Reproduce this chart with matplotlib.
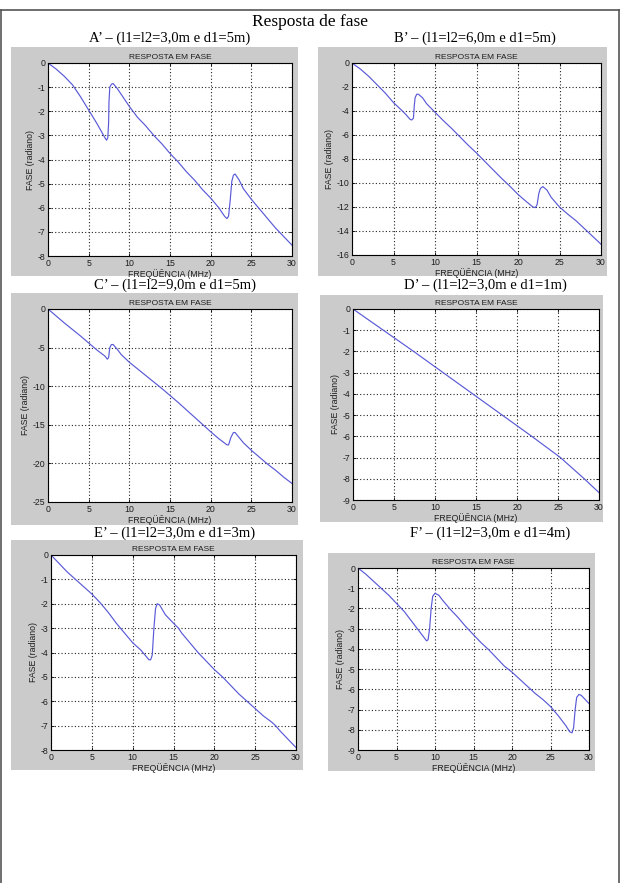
import matplotlib
matplotlib.use('Agg')
import matplotlib.pyplot as plt
from matplotlib.patches import Rectangle
from matplotlib.lines import Line2D

plt.rcParams['axes.unicode_minus'] = False

# Phase response curves (MHz, radians)
freq_a = [0, 1, 2, 3, 4, 5, 6, 6.5, 7, 7.2, 7.35, 7.45, 7.5, 7.6, 7.8, 8.0, 8.5, 9, 10, 11, 12, 13, 14,
          15, 16, 17, 18, 19, 20, 21, 21.7, 22, 22.2, 22.4, 22.6, 22.8, 23, 23.5, 24, 25, 26, 27, 28, 29, 30]
fase_a = [0, -0.25, -0.55, -0.9, -1.4, -1.95, -2.5, -2.8, -3.1, -3.2, -3.1, -2.5, -1.6, -1.0, -0.88, -0.85,
          -1.05, -1.3, -1.8, -2.25, -2.6, -3.0, -3.35, -3.75, -4.1, -4.5, -4.85, -5.25, -5.6, -6.0, -6.35,
          -6.45, -6.35, -5.7, -4.9, -4.65, -4.6, -4.85, -5.2, -5.65, -6.05, -6.45, -6.85, -7.2, -7.55]

freq_b = [0, 1, 2, 3, 4, 5, 6, 6.5, 7, 7.2, 7.4, 7.5, 7.6, 7.8, 8.0, 8.5, 9, 10, 11, 12, 13, 14, 15, 16,
          17, 18, 19, 20, 21, 21.8, 22.1, 22.3, 22.5, 22.7, 23, 23.5, 24, 25, 26, 27, 28, 29, 30]
fase_b = [0, -0.5, -1.1, -1.8, -2.5, -3.3, -3.95, -4.3, -4.7, -4.75, -4.6, -3.6, -2.9, -2.6, -2.6, -2.9,
          -3.4, -4.1, -4.8, -5.45, -6.15, -6.85, -7.5, -8.2, -8.9, -9.6, -10.25, -10.95, -11.55, -12.0,
          -12.05, -11.8, -10.9, -10.45, -10.3, -10.6, -11.2, -12.0, -12.6, -13.15, -13.8, -14.45, -15.1]

freq_c = [0, 2, 4, 5, 6, 7, 7.3, 7.45, 7.6, 7.8, 8.0, 8.5, 9, 10, 12, 14, 15, 16, 18, 20, 21, 22, 22.2,
          22.5, 22.8, 23, 24, 25, 26, 27, 28, 29, 30]
fase_c = [0, -1.8, -3.5, -4.4, -5.3, -6.1, -6.5, -6.3, -5.0, -4.6, -4.6, -5.2, -5.9, -6.9, -8.6, -10.3,
          -11.2, -12.1, -14.0, -15.9, -16.8, -17.6, -17.6, -16.6, -16.0, -16.0, -17.3, -18.3, -19.2, -20.1,
          -20.9, -21.8, -22.6]

freq_d = [0, 3.7, 7.4, 11, 14.6, 18.2, 21.8, 25.3, 28.2, 30]
fase_d = [0, -1, -2, -3, -4, -5, -6, -7, -8, -8.65]

freq_e = [0, 1, 2, 3, 4, 5, 6, 7, 8, 9, 10, 11, 11.5, 12, 12.2, 12.4, 12.6, 12.8, 13, 13.3, 14, 15, 15.6,
          16, 17, 18, 19, 20, 21, 22, 23, 24, 25, 26, 27, 27.5, 28, 29, 30]
fase_e = [0, -0.35, -0.7, -1.0, -1.3, -1.6, -1.95, -2.35, -2.8, -3.2, -3.6, -3.9, -4.1, -4.3, -4.3, -4.1,
          -3.0, -2.2, -2.0, -2.05, -2.45, -2.8, -3.0, -3.2, -3.6, -4.0, -4.35, -4.7, -5.0, -5.35, -5.7,
          -6.0, -6.3, -6.6, -6.85, -7.0, -7.2, -7.55, -7.9]

freq_f = [0, 1, 2, 3, 4, 5, 6, 7, 8, 8.5, 8.9, 9.1, 9.3, 9.5, 9.7, 10.0, 10.5, 11, 12, 13, 14, 15, 16,
          17, 18, 19, 20, 21, 22, 23, 24, 25, 26, 27, 27.5, 27.8, 28.0, 28.2, 28.4, 28.7, 29, 29.5, 30]
fase_f = [0, -0.3, -0.65, -1.0, -1.35, -1.75, -2.15, -2.65, -3.15, -3.4, -3.6, -3.55, -3.0, -2.0, -1.4,
          -1.25, -1.35, -1.6, -2.05, -2.45, -2.9, -3.3, -3.7, -4.05, -4.45, -4.85, -5.15, -5.5, -5.85,
          -6.2, -6.5, -6.85, -7.3, -7.8, -8.1, -8.15, -7.9, -7.0, -6.4, -6.25, -6.3, -6.5, -6.7]

subtitles = ["A’ – (l1=l2=3,0m e d1=5m)", "B’ – (l1=l2=6,0m e d1=5m)",
             "C’ – (l1=l2=9,0m e d1=5m)", "D’ – (l1=l2=3,0m e d1=1m)",
             "E’ – (l1=l2=3,0m e d1=3m)", "F’ – (l1=l2=3,0m e d1=4m)"]
ymins = [-8, -16, -25, -9, -8, -9]
ysteps = [1, 2, 5, 1, 1, 1]
xticks = [0, 5, 10, 15, 20, 25, 30]

W, H = 621, 883
fig = plt.figure(figsize=(W / 100, H / 100), dpi=100)

def frac(x1, y1, x2, y2):
    return [x1 / W, 1 - y2 / H, (x2 - x1) / W, (y2 - y1) / H]

# pixel layout: gray panel, axes box, subtitle position
layout = [
    dict(panel=(11, 47, 298, 276), axes=(48, 63, 292, 256), sub=(170, 38)),
    dict(panel=(318, 47, 607, 276), axes=(352, 63, 601, 255), sub=(475, 38)),
    dict(panel=(11, 293, 298, 525), axes=(48, 309, 292, 502), sub=(175, 285)),
    dict(panel=(320, 295, 603, 522), axes=(353, 309, 599, 500), sub=(485, 285)),
    dict(panel=(11, 540, 303, 770), axes=(51, 555, 296, 750), sub=(175, 533)),
    dict(panel=(328, 553, 595, 771), axes=(358, 568, 589, 750), sub=(490, 533)),
]
curves = [(freq_a, fase_a), (freq_b, fase_b), (freq_c, fase_c),
          (freq_d, fase_d), (freq_e, fase_e), (freq_f, fase_f)]

sans = 'Liberation Sans'
serif = 'Liberation Serif'
txt = '#1e1e1e'

# page frame (top, left, right)
for seg in [((1, 619), (10, 10)), ((1, 1), (10, 883)), ((619, 619), (10, 883))]:
    fig.add_artist(Line2D([s / W for s in seg[0]], [1 - s / H for s in seg[1]],
                          color='#555555', lw=1.2, transform=fig.transFigure))

fig.text(310 / W, 1 - 22 / H, 'Resposta de fase', ha='center', va='center',
         fontsize=12.5, family=serif)

for i, lay in enumerate(layout):
    px1, py1, px2, py2 = lay['panel']
    x0, y0, w, h = frac(px1, py1, px2, py2)
    fig.add_artist(Rectangle((x0, y0), w, h, transform=fig.transFigure,
                             facecolor='#cbcbcb', edgecolor='none', zorder=0))
    fig.text(lay['sub'][0] / W, 1 - lay['sub'][1] / H, subtitles[i], ha='center', va='center',
             fontsize=10.5, family=serif)

    ax = fig.add_axes(frac(*lay['axes']))
    ax.set_facecolor('white')
    xs, ys = curves[i]
    ax.plot(xs, ys, color='#5a5ad8', lw=0.85)
    ax.set_xlim(0, 30)
    ax.set_ylim(ymins[i], 0)
    ax.set_xticks(xticks)
    ax.set_yticks(list(range(ymins[i], 1, ysteps[i])))
    ax.grid(True, color='#222222', linestyle=(0, (1, 2)), lw=0.8)
    ax.tick_params(direction='in', length=2, width=0.6, top=True, right=True,
                   labelsize=6.3, labelcolor=txt, pad=2)
    for lab in ax.get_xticklabels() + ax.get_yticklabels():
        lab.set_family(sans)
    for sp in ax.spines.values():
        sp.set_linewidth(0.8)
    ax.set_title('RESPOSTA EM FASE', fontsize=6, family=sans, color=txt, pad=3)
    ax.set_xlabel('FREQÜÊNCIA (MHz)', fontsize=6.3, family=sans, color=txt, labelpad=1)
    ax.set_ylabel('FASE (radiano)', fontsize=6.3, family=sans, color=txt, labelpad=2)

fig.savefig('out.png', dpi=100, facecolor='white')
